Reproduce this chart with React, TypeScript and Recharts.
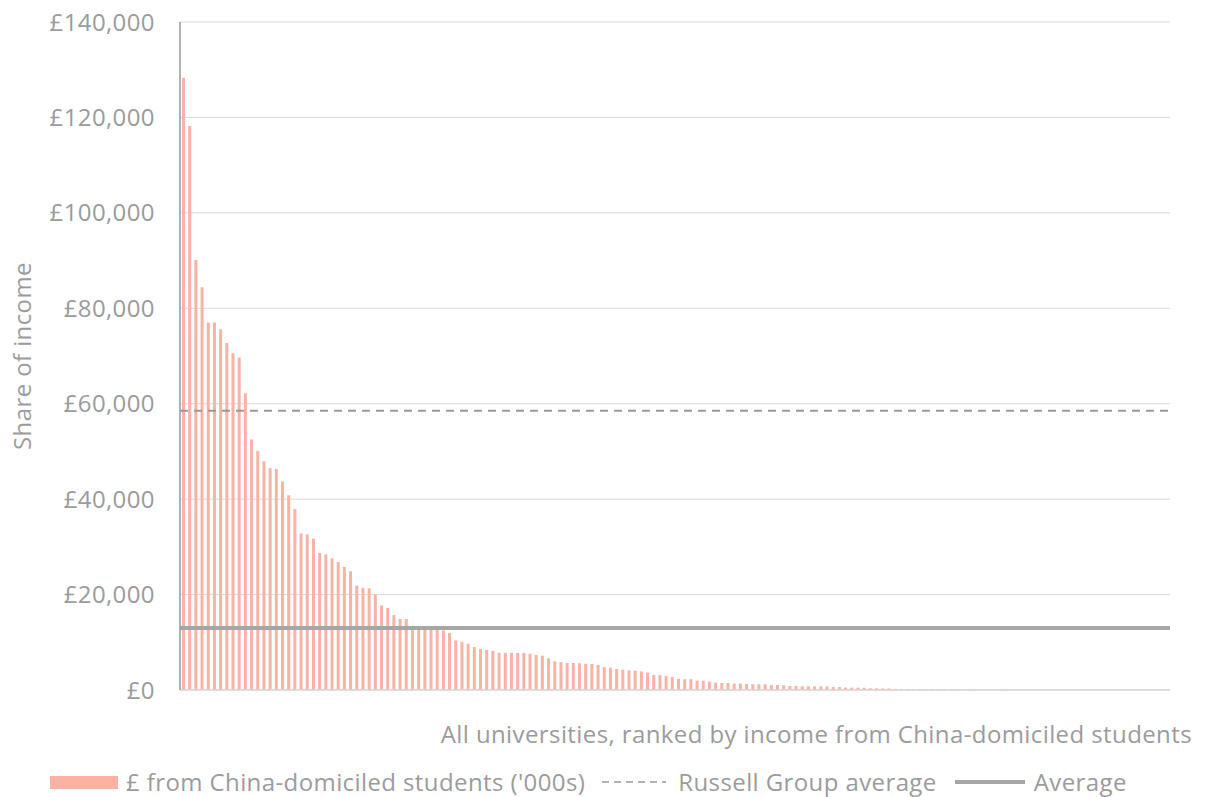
import React from 'react';
import { BarChart, Bar, XAxis, YAxis, CartesianGrid, ReferenceLine, Legend } from 'recharts';

// Income from China-domiciled students (£'000s), universities ranked descending
const incomeValues: number[] = [
  128300, 118200, 90100, 84400, 77000, 77000, 75600, 72700, 70600, 69700,
  62200, 52500, 50100, 47900, 46500, 46300, 43700, 40800, 37900, 32800,
  32600, 31700, 28700, 28400, 27600, 26800, 25800, 24900, 21900, 21400,
  21300, 20000, 17700, 17200, 15700, 14900, 14900, 13300, 13200, 13000,
  12900, 12800, 12500, 11950, 10400, 10100, 9700, 9000, 8600, 8400,
  8200, 7800, 7800, 7800, 7750, 7750, 7600, 7350, 7200, 6650,
  6000, 5850, 5650, 5650, 5600, 5500, 5450, 5250, 4800, 4700,
  4400, 4250, 4100, 4050, 3900, 3650, 3150, 3150, 2950, 2700,
  2300, 2250, 2250, 1950, 1950, 1750, 1550, 1450, 1450, 1350,
  1350, 1250, 1200, 1200, 1200, 1050, 1050, 1000, 850, 850,
  780, 770, 760, 750, 740, 640, 630, 500, 490, 480,
  470, 360, 350, 340, 330, 230, 220, 215, 210, 205,
  200, 195, 190, 185, 180, 175, 100, 98, 96, 94,
  92, 90, 88, 86, 84, 82, 80, 78, 76, 74,
  72, 70, 68, 66, 64, 62, 0, 0, 0, 0,
  0, 0, 0, 0, 0, 0, 0, 0, 0, 0,
];

const RUSSELL_GROUP_AVERAGE = 58500;
const OVERALL_AVERAGE = 13000;

const yTicks: number[] = [0, 20000, 40000, 60000, 80000, 100000, 120000, 140000];

const seriesName = "£ from China-domiciled students ('000s)";
const russellLabel = 'Russell Group average';
const averageLabel = 'Average';
const xAxisTitle = 'All universities, ranked by income from China-domiciled students';
const yAxisTitle = 'Share of income';

const data = incomeValues.map((v, i) => ({ rank: i + 1, income: v }));

const FONT = '"Open Sans", Lato, sans-serif';
const TEXT = '#9b9b9b';
const BAR = '#f9b2a3';
const FS = 24;
const LS = 0.4;

const fmt = (v: number) => '£' + v.toLocaleString('en-GB');

const YLabel = (props: any) => {
  const vb = props.viewBox || { x: 0, y: 22, width: 180, height: 668 };
  return (
    <text
      transform={`translate(${vb.x + 21},${vb.y + vb.height / 2}) rotate(-90)`}
      textAnchor="middle"
      dominantBaseline="central"
      fill={TEXT}
      fontFamily={FONT}
      fontSize={FS}
      letterSpacing={LS}
    >
      {yAxisTitle}
    </text>
  );
};

const XLabel = (props: any) => {
  const vb = props.viewBox || { x: 180, y: 690, width: 990, height: 60 };
  return (
    <text
      x={vb.x + vb.width + 22}
      y={vb.y + 43}
      textAnchor="end"
      dominantBaseline="central"
      fill={TEXT}
      fontFamily={FONT}
      fontSize={FS}
      letterSpacing={LS}
    >
      {xAxisTitle}
    </text>
  );
};

const renderLegend = () => (
  <div
    style={{
      height: 28,
      lineHeight: '28px',
      display: 'flex',
      alignItems: 'center',
      fontFamily: FONT,
      fontSize: FS,
      letterSpacing: LS,
      color: TEXT,
      paddingLeft: 50,
      whiteSpace: 'nowrap',
    }}
  >
    <span style={{ display: 'inline-block', width: 68, height: 13, background: BAR, marginRight: 8 }} />
    <span>{seriesName}</span>
    <svg width={64} height={10} style={{ marginLeft: 17, marginRight: 12 }}>
      <line x1={0} y1={5} x2={64} y2={5} stroke="#999" strokeWidth={1.5} strokeDasharray="7 5" />
    </svg>
    <span>{russellLabel}</span>
    <svg width={70} height={10} style={{ marginLeft: 18, marginRight: 9 }}>
      <line x1={0} y1={5} x2={70} y2={5} stroke="#a6a6a6" strokeWidth={4} />
    </svg>
    <span>{averageLabel}</span>
  </div>
);

export default function App() {
  return (
    <div style={{ position: 'absolute', left: 0, top: 0, background: '#fff' }}>
      <BarChart
        width={1207}
        height={797}
        data={data}
        margin={{ top: 22, right: 37, left: 0, bottom: 19 }}
        barSize={3}
      >
        <CartesianGrid horizontal vertical={false} stroke="#d9d9d9" strokeWidth={1} />
        <XAxis
          dataKey="rank"
          tick={false}
          tickLine={false}
          axisLine={{ stroke: '#d9d9d9', strokeWidth: 1.5 }}
          height={60}
          label={<XLabel />}
        />
        <YAxis
          width={180}
          domain={[0, 140000]}
          ticks={yTicks}
          tickFormatter={fmt}
          tickLine={false}
          tickSize={0}
          tickMargin={25}
          axisLine={{ stroke: '#999', strokeWidth: 1.5 }}
          tick={{ fill: TEXT, fontFamily: FONT, fontSize: FS, letterSpacing: LS }}
          label={<YLabel />}
          allowDataOverflow
        />
        <Bar dataKey="income" name={seriesName} fill={BAR} isAnimationActive={false} />
        <ReferenceLine y={RUSSELL_GROUP_AVERAGE} stroke="#999" strokeWidth={2} strokeDasharray="8 6" />
        <ReferenceLine y={OVERALL_AVERAGE} stroke="#a6a6a6" strokeWidth={4} />
        <Legend
          content={renderLegend}
          verticalAlign="bottom"
          wrapperStyle={{ top: 768, left: 0, bottom: 'auto', width: 1207, height: 28 }}
        />
      </BarChart>
    </div>
  );
}
